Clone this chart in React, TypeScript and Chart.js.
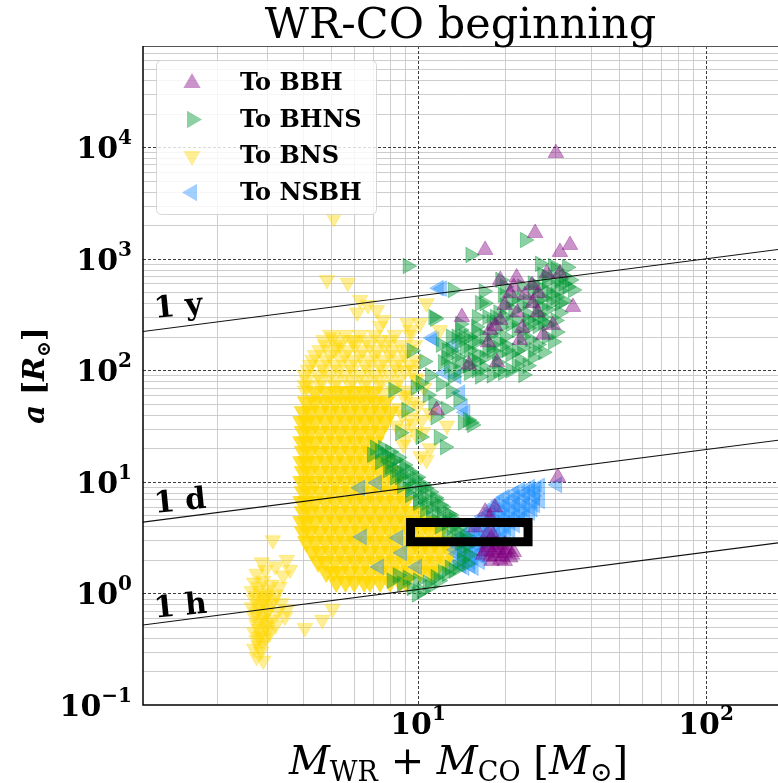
import { useEffect, useRef } from 'react';
import { Chart, registerables } from 'chart.js';
Chart.register(...registerables);

// ---------------- data ----------------
const seriesLabels = ['To BBH', 'To BHNS', 'To BNS', 'To NSBH'];

const bbhPoints: [number, number][] = [
  [30.1, 8870], [25.5, 1700], [17.1, 1200], [31.1, 1150], [33.7, 1330], [22.0, 680], [19.3, 646],
  [24.9, 582], [28.0, 740], [31.1, 740], [20.9, 490], [26.2, 490], [34.5, 370], [14.2, 300],
  [19.3, 283], [22.1, 330], [29.4, 255], [22.6, 187], [27.2, 208], [17.5, 178], [18.8, 118],
  [15.0, 112], [23.5, 474], [20.0, 385], [17.8, 230], [21.5, 560], [25.0, 400], [18.5, 250],
  [23.0, 240], [26.0, 330], [11.6, 44], [30.6, 11.0],
  [17.1, 5.4], [18.5, 5.9], [17.8, 4.85], [17.4, 2.73], [18.5, 2.46], [20.0, 2.3], [17.8, 2.13],
  [19.3, 2.0], [20.9, 2.1], [16.8, 2.22], [18.8, 2.73], [20.0, 2.73], [21.2, 2.22], [18.2, 3.35],
  [15.8, 3.9], [17.5, 3.5],
  [17.0, 2.4], [18.0, 2.35], [19.0, 2.3], [20.0, 2.45], [18.5, 2.15], [19.6, 2.15], [17.6, 2.6],
  [19.0, 2.6], [20.5, 2.5], [21.5, 2.35], [18.0, 1.95], [20.0, 1.95],
];

const bhnsPoints: [number, number][] = [
  [23.5, 1470], [15.2, 1080], [9.2, 860], [26.5, 900], [29.4, 860], [32.9, 840], [33.7, 646],
  [28.0, 690], [13.2, 525], [16.9, 510], [19.7, 474], [19.3, 646], [34.5, 525], [11.3, 300],
  [16.4, 400], [17.4, 300], [21.4, 348], [26.5, 370], [31.1, 400], [14.4, 200], [15.9, 245],
  [19.3, 245], [24.0, 283], [27.2, 270], [30.2, 220], [29.4, 180], [15.5, 180], [17.4, 152],
  [20.3, 152], [25.2, 152], [27.2, 145], [13.6, 133], [14.9, 110], [18.8, 118], [22.6, 124],
  [16.4, 88], [19.7, 95], [23.2, 91], [12.2, 118], [13.2, 88],
  [14.5, 160], [16.0, 140], [18.0, 170], [20.0, 200], [22.0, 230], [24.0, 320], [26.0, 420],
  [28.0, 520], [30.0, 600], [21.0, 260], [23.0, 160], [25.0, 130], [19.0, 100], [17.0, 105],
  [15.5, 125], [13.0, 150], [12.0, 170], [18.5, 300], [21.0, 420], [25.0, 600], [27.0, 720],
  [30.0, 800], [32.0, 700], [29.0, 480], [26.0, 320], [23.0, 380], [20.0, 560], [17.0, 400],
  [16.0, 220], [14.0, 260], [19.0, 140], [22.0, 110], [24.5, 190], [28.0, 260], [31.0, 330],
  [15.0, 95], [13.8, 100], [12.8, 108],
  [14.0, 180], [15.0, 150], [16.0, 120], [17.0, 130], [18.0, 150], [19.0, 180], [20.0, 170],
  [21.0, 140], [22.0, 150], [23.0, 200], [24.0, 240], [25.0, 270], [26.0, 250], [27.0, 300],
  [28.0, 350], [29.0, 400], [30.0, 450], [31.0, 520], [32.0, 600], [33.0, 560], [27.0, 450],
  [25.0, 520], [23.0, 560], [22.0, 450], [20.0, 380], [19.0, 330], [18.0, 270], [17.0, 200],
  [16.0, 180], [15.0, 200], [14.0, 230], [13.0, 200], [12.5, 130], [14.0, 120], [16.0, 100],
  [18.0, 90], [21.0, 100], [24.0, 110], [26.0, 170], [28.0, 200], [30.0, 280], [32.0, 420],
  [20.0, 300], [22.0, 280], [24.0, 420], [26.0, 560], [28.0, 620], [31.0, 650], [18.0, 210],
  [16.0, 300],
  [11.45, 290], [13.6, 200], [12.6, 150], [14.3, 34], [15.2, 34], [11.8, 25], [12.4, 20.5],
  [14.9, 35.9], [15.4, 32.4], [8.2, 66.7], [10.2, 77], [9.1, 44], [11.3, 51], [8.66, 27.5],
  [10.2, 25.3], [9.5, 150], [10.5, 120], [11.0, 90], [9.8, 70], [10.8, 60], [12.0, 75],
  [13.0, 65], [12.5, 45], [11.5, 38], [13.8, 55],
  [7.09, 20.2], [7.38, 18.6], [7.8, 16.9], [8.1, 15.2], [8.45, 12.8], [8.8, 11.6], [9.2, 10.4],
  [9.55, 9.4], [10.16, 8.48], [10.5, 7.3], [10.7, 6.5], [11.1, 5.85], [11.6, 5.3], [12.1, 4.75],
  [12.6, 4.3], [13.1, 3.87], [13.6, 3.35], [14.0, 2.85], [14.2, 2.4], [14.2, 2.0], [13.7, 1.73],
  [8.3, 15.7], [9.0, 13.3], [9.75, 10.8], [10.6, 8.8], [11.45, 7.2], [11.9, 6.2], [12.9, 5.06],
  [13.4, 4.12], [14.6, 3.02], [7.7, 17.5], [8.0, 13.7], [8.66, 11.0], [9.4, 8.5], [10.0, 6.9],
  [7.56, 20.1], [8.0, 18.6], [8.53, 16.5], [8.94, 14.2], [9.38, 12.3], [9.92, 11.0], [10.4, 9.4],
  [11.0, 8.13], [11.5, 6.9], [12.1, 5.95], [12.7, 5.17], [13.3, 4.57], [13.9, 3.87], [14.5, 3.3],
  [14.9, 2.73], [15.0, 2.22], [14.8, 1.85],
  [6.92, 17.5], [7.38, 15.1], [7.87, 12.8], [8.32, 11.0], [8.8, 9.2], [9.38, 7.65], [10.0, 6.5],
  [10.57, 5.6], [11.1, 4.75], [11.9, 4.0], [12.6, 3.35],
  [8.1, 1.3], [8.8, 1.22], [9.5, 1.12], [10.3, 1.05], [11.0, 1.15], [11.8, 1.3], [12.6, 1.5],
  [13.3, 1.6], [9.9, 0.98], [8.5, 1.45], [9.2, 1.38], [10.0, 1.3], [10.8, 1.25], [11.5, 1.4],
  [12.2, 1.55], [12.9, 1.7],
];

const bnsPoints: [number, number][] = [
  [5.1, 2320], [4.83, 646], [5.7, 610], [6.29, 427], [6.7, 385], [7.2, 348], [6.15, 330],
  [7.57, 283], [7.38, 250], [9.2, 265], [10.16, 265], [10.7, 400], [5.07, 198], [6.0, 187],
  [5.23, 160], [9.4, 230], [11.9, 230],
  [4.95, 208], [5.6, 208], [6.29, 208], [7.09, 208], [8.3, 208], [9.4, 208],
  [4.76, 169], [5.36, 169], [6.04, 169], [6.81, 169], [7.68, 169], [8.66, 169], [9.75, 169],
  [4.39, 137], [4.95, 137], [5.58, 137], [6.29, 137], [7.09, 137], [8.0, 137], [9.0, 137],
  [4.22, 112], [4.64, 112], [5.15, 112], [5.81, 112], [6.54, 112], [7.38, 112], [8.32, 112], [9.38, 112],
  [4.05, 91], [4.5, 91], [4.95, 91], [5.58, 91], [6.29, 91], [7.09, 91], [8.0, 91],
  [4.05, 74], [4.57, 74], [5.15, 74], [5.81, 74], [6.54, 74], [7.38, 74], [8.32, 74],
  [4.7, 187], [5.3, 187], [5.9, 187], [6.6, 187], [7.4, 187], [8.0, 187],
  [4.55, 152], [5.1, 152], [5.7, 152], [6.4, 152], [7.2, 152], [8.1, 152], [9.2, 152],
  [4.3, 124], [4.8, 124], [5.4, 124], [6.0, 124], [6.8, 124], [7.6, 124], [8.6, 124], [9.8, 124],
  [4.15, 101], [4.7, 101], [5.3, 101], [5.9, 101], [6.7, 101], [7.5, 101], [8.5, 101], [9.6, 101],
  [4.1, 82], [4.6, 82], [5.2, 82], [5.9, 82], [6.6, 82], [7.4, 82], [8.6, 82], [9.9, 82],
  [4.05, 66], [8.2, 66], [9.1, 66], [7.6, 62], [4.1, 72],
  [8.9, 60], [9.6, 52], [8.6, 46], [9.4, 38], [10.3, 36], [8.4, 32], [9.8, 27], [8.9, 30],
  [9.0, 100], [9.8, 85], [10.5, 70], [9.2, 58], [10.0, 48], [8.8, 40], [9.5, 33], [10.4, 28],
  [9.0, 24], [11.0, 20], [10.2, 17], [8.9, 21.5], [11.0, 41.5], [12.6, 32], [10.7, 15.7],
  [2.75, 1.5], [2.95, 1.62], [3.2, 1.75], [3.4, 1.45], [2.7, 1.25], [2.9, 1.3], [3.1, 1.2],
  [3.3, 1.15], [2.65, 1.05], [2.85, 1.0], [3.0, 0.95], [3.2, 0.98], [2.7, 0.88], [2.9, 0.85],
  [3.1, 0.8], [3.35, 0.82], [2.65, 0.75], [2.8, 0.72], [3.0, 0.7], [3.25, 0.68], [2.7, 0.62],
  [2.9, 0.6], [3.1, 0.58], [2.75, 0.53], [2.95, 0.5], [3.2, 0.52], [2.7, 0.45], [2.85, 0.42],
  [3.05, 0.44], [2.75, 0.38], [2.9, 0.36], [2.7, 0.32], [2.85, 0.3], [2.75, 0.27], [2.9, 0.25],
  [2.8, 1.15], [3.0, 1.08], [2.75, 0.95], [2.95, 0.9], [3.15, 0.88], [2.8, 0.8], [2.95, 0.77],
  [2.75, 0.68], [2.95, 0.65], [2.8, 0.57], [3.0, 0.55], [2.8, 0.48], [3.0, 0.47], [2.8, 0.41],
  [2.95, 0.4], [2.8, 0.34],
  [3.45, 0.62], [3.5, 0.72], [4.05, 0.49], [4.65, 0.58], [5.05, 0.73], [3.13, 3.0], [3.5, 2.0],
  [2.87, 1.9], [3.59, 1.63],
];

// dense BNS population, read row by row: [a, list of masses]
const bnsCoreRows: [number, number[]][] = [
  [64, [4.4, 4.8, 5.2, 5.6, 6.0, 6.5, 7.0]],
  [52, [4.1, 4.39, 4.76, 5.15, 5.58, 6.04, 6.54, 7.09, 7.68]],
  [42.4, [4.0, 4.22, 4.57, 4.95, 5.36, 5.81, 6.29, 6.81, 7.38, 8.0]],
  [34.5, [3.95, 4.1, 4.39, 4.76, 5.15, 5.58, 6.04, 6.54, 7.09, 7.68]],
  [28.1, [4.0, 4.22, 4.57, 4.95, 5.36, 5.81, 6.29, 6.81, 7.38]],
  [22.8, [3.95, 4.1, 4.39, 4.76, 5.15, 5.58, 6.04, 6.54, 7.09]],
  [18.6, [4.0, 4.22, 4.57, 4.95, 5.36, 5.81, 6.29, 6.81]],
  [15.1, [3.95, 4.1, 4.39, 4.76, 5.15, 5.58, 6.04, 6.54, 7.09, 7.68]],
  [12.3, [4.0, 4.22, 4.57, 4.95, 5.36, 5.81, 6.29, 6.81, 7.38, 8.0]],
  [10.0, [3.95, 4.1, 4.39, 4.76, 5.15, 5.58, 6.04, 6.54, 7.09, 7.68, 8.32]],
  [8.13, [4.0, 4.22, 4.57, 4.95, 5.36, 5.81, 6.29, 6.81, 7.38, 8.0, 8.66]],
  [6.62, [3.95, 4.1, 4.39, 4.76, 5.15, 5.58, 6.04, 6.54, 7.09, 7.68, 8.32, 9.0]],
  [5.38, [4.0, 4.22, 4.57, 4.95, 5.36, 5.81, 6.29, 6.81, 7.38, 8.0, 8.66, 9.38, 10.16]],
  [4.38, [3.95, 4.1, 4.39, 4.76, 5.15, 5.58, 6.04, 6.54, 7.09, 7.68, 8.32, 9.0, 9.75, 10.57, 11.0]],
  [3.56, [4.0, 4.22, 4.57, 4.95, 5.36, 5.81, 6.29, 6.81, 7.38, 8.0, 8.66, 9.38, 10.16, 11.0, 11.9]],
  [2.9, [4.1, 4.39, 4.76, 5.15, 5.58, 6.04, 6.54, 7.09, 7.68, 8.32, 9.0, 9.75, 10.57, 11.4, 12.4]],
  [2.36, [4.3, 4.57, 4.95, 5.36, 5.81, 6.29, 6.81, 7.38, 8.0, 8.66, 9.38, 10.16, 11.0, 11.9, 12.9]],
  [1.92, [4.5, 4.76, 5.15, 5.58, 6.04, 6.54, 7.09, 7.68, 8.32, 9.0, 9.75, 10.57, 11.4, 12.4]],
  [1.56, [4.8, 5.1, 5.36, 5.81, 6.29, 6.81, 7.38, 8.0, 8.66, 9.38, 10.16, 11.0, 11.4]],
  [1.27, [5.2, 5.6, 6.0, 6.5, 6.81, 7.38, 8.0, 8.66, 9.1]],
];

const nsbhPoints: [number, number][] = [
  [11.8, 545], [12.1, 540], [11.2, 195], [11.4, 190], [14.0, 63], [14.3, 46.5], [12.4, 95],
  [13.6, 88], [14.6, 42], [13.3, 170],
  [6.29, 8.84], [7.2, 9.8], [6.38, 3.21], [8.53, 3.15], [8.8, 2.31], [7.32, 1.73], [9.92, 1.73],
  [30.4, 9.4],
  [22.6, 8.5], [24.5, 8.5], [25.8, 8.6], [26.5, 9.2], [24.5, 9.0],
  [20.0, 7.3], [21.7, 7.3], [23.5, 7.3], [25.5, 7.3],
  [21.5, 7.9], [23.5, 7.9], [25.5, 7.9],
  [18.5, 6.2], [20.0, 6.2], [21.7, 6.2], [23.5, 6.2], [25.5, 6.2],
  [19.2, 6.75], [21.0, 6.75], [22.8, 6.75], [24.8, 6.75], [26.5, 6.75],
  [17.8, 5.3], [19.3, 5.3], [20.9, 5.3], [22.6, 5.3], [24.5, 5.3],
  [18.0, 5.7], [19.6, 5.7], [21.3, 5.7], [23.0, 5.7], [25.0, 5.7],
  [16.4, 4.5], [17.8, 4.5], [19.3, 4.5], [20.9, 4.5], [22.6, 4.5],
  [16.8, 4.9], [18.4, 4.9], [20.0, 4.9], [21.7, 4.9], [23.5, 4.9],
  [15.2, 3.7], [16.4, 3.7], [17.8, 3.7], [19.3, 3.7], [20.9, 3.7],
  [15.7, 4.1], [17.0, 4.1], [18.5, 4.1], [20.0, 4.1], [21.7, 4.1],
  [14.2, 3.15], [15.4, 3.15], [16.7, 3.15], [18.1, 3.15], [19.6, 3.15],
  [14.6, 3.4], [15.8, 3.4], [17.1, 3.4], [18.6, 3.4], [20.2, 3.4],
  [13.7, 2.7], [14.9, 2.7], [16.1, 2.7],
  [14.0, 2.9], [15.2, 2.9], [16.5, 2.9], [17.8, 2.9],
  [13.7, 2.27], [14.9, 2.27], [16.1, 2.27],
  [13.5, 2.46], [14.6, 2.46], [15.8, 2.46], [17.0, 2.46],
  [14.0, 1.92], [15.2, 1.92], [16.4, 1.92],
  [14.2, 2.1], [15.4, 2.1], [16.7, 2.1],
  [14.5, 1.7], [15.6, 1.7], [14.1, 1.78], [15.2, 1.78],
];

// constant-period lines (endpoints)
const periodLineX = [1.1, 180];
const oneYearA = [222, 1214];
const oneDayA = [4.35, 23.7];
const oneHourA = [0.52, 2.85];
const periodLabels = ['1 y', '1 d', '1 h'];
const periodLabelX = [1.22, 1.22, 1.22];
const periodLabelY = [295, 5.27, 0.604];

// highlighted box
const boxX = [9.42, 24.1];
const boxY = [2.9, 4.33];

const xTickExps = [1, 2];
const yTickExps = [-1, 0, 1, 2, 3, 4];

const X_MIN = 1.109;
const X_MAX = 177.8;
const Y_MIN = 0.1;
const Y_MAX = 80700;

// ---------------- styling ----------------
const SERIF = '"DejaVu Serif"';
const COLORS = ['rgba(128,0,128,0.42)', 'rgba(0,150,50,0.45)', 'rgba(255,215,0,0.42)', 'rgba(30,144,255,0.42)'];
const ROTS = [0, 90, 180, 270];

const toXY = (pts: [number, number][]) => pts.map(([x, y]) => ({ x, y }));

function triPath(ctx: CanvasRenderingContext2D, cx: number, cy: number, r: number, rotDeg: number) {
  let rad = (rotDeg * Math.PI) / 180;
  ctx.beginPath();
  ctx.moveTo(cx + Math.sin(rad) * r, cy - Math.cos(rad) * r);
  for (let k = 0; k < 2; k++) {
    rad += (2 * Math.PI) / 3;
    ctx.lineTo(cx + Math.sin(rad) * r, cy - Math.cos(rad) * r);
  }
  ctx.closePath();
}

type Seg = { t: string; f: string; dy?: number };
function drawRich(ctx: CanvasRenderingContext2D, segs: Seg[], cx: number, base: number) {
  let total = 0;
  const ws = segs.map((s) => {
    ctx.font = s.f;
    const w = ctx.measureText(s.t).width;
    total += w;
    return w;
  });
  let x = cx - total / 2;
  ctx.textAlign = 'left';
  ctx.textBaseline = 'alphabetic';
  segs.forEach((s, i) => {
    ctx.font = s.f;
    ctx.fillText(s.t, x, base + (s.dy || 0));
    x += ws[i];
  });
}

const supText = (e: number) => (e < 0 ? '\u2212' + String(-e) : String(e));

const decorPlugin = {
  id: 'decor',
  beforeDatasetsDraw(chart: any) {
    const { ctx, chartArea, scales } = chart;
    const { left, right, top, bottom } = chartArea;
    const xs = scales.x;
    const ys = scales.y;
    ctx.save();
    ctx.beginPath();
    ctx.rect(left, top, right - left, bottom - top);
    ctx.clip();
    ctx.strokeStyle = 'rgba(200,200,200,0.9)';
    ctx.lineWidth = 1;
    for (let e = 0; e <= 2; e++) {
      for (let m = 2; m <= 9; m++) {
        const p = Math.round(xs.getPixelForValue(m * Math.pow(10, e))) + 0.5;
        ctx.beginPath(); ctx.moveTo(p, top); ctx.lineTo(p, bottom); ctx.stroke();
      }
    }
    for (let e = -1; e <= 4; e++) {
      for (let m = 2; m <= 9; m++) {
        const p = Math.round(ys.getPixelForValue(m * Math.pow(10, e))) + 0.5;
        ctx.beginPath(); ctx.moveTo(left, p); ctx.lineTo(right, p); ctx.stroke();
      }
    }
    ctx.strokeStyle = 'rgba(40,40,40,0.9)';
    ctx.setLineDash([3, 2]);
    for (let e = 0; e <= 2; e++) {
      const p = Math.round(xs.getPixelForValue(Math.pow(10, e))) + 0.5;
      ctx.beginPath(); ctx.moveTo(p, top); ctx.lineTo(p, bottom); ctx.stroke();
    }
    for (let e = -1; e <= 4; e++) {
      const p = Math.round(ys.getPixelForValue(Math.pow(10, e))) + 0.5;
      ctx.beginPath(); ctx.moveTo(left, p); ctx.lineTo(right, p); ctx.stroke();
    }
    ctx.restore();
  },
  afterDraw(chart: any) {
    const { ctx, chartArea, scales } = chart;
    const { left, right, top, bottom } = chartArea;
    const xs = scales.x;
    const ys = scales.y;
    ctx.save();
    ctx.strokeStyle = '#555';
    ctx.lineWidth = 1;
    ctx.beginPath(); ctx.moveTo(left, top + 0.5); ctx.lineTo(right, top + 0.5); ctx.stroke();
    ctx.strokeStyle = '#000';
    ctx.lineWidth = 1.5;
    ctx.beginPath(); ctx.moveTo(left, top); ctx.lineTo(left, bottom); ctx.lineTo(right, bottom); ctx.stroke();

    ctx.fillStyle = '#000';
    ctx.font = `bold 30px ${SERIF}`;
    ctx.textAlign = 'left';
    ctx.textBaseline = 'alphabetic';
    periodLabels.forEach((t, i) => {
      const px = xs.getPixelForValue(periodLabelX[i]);
      const py = ys.getPixelForValue(periodLabelY[i]);
      ctx.save();
      ctx.translate(px, py);
      ctx.rotate(-0.1);
      ctx.fillText(t, 0, 0);
      ctx.restore();
    });

    ctx.font = `43px ${SERIF}`;
    ctx.textAlign = 'center';
    ctx.fillText('WR-CO beginning', (left + right) / 2, 38);

    const mainF = `bold 30px ${SERIF}`;
    const supF = `bold 20px ${SERIF}`;
    yTickExps.forEach((e) => {
      const py = ys.getPixelForValue(Math.pow(10, e));
      ctx.font = supF;
      const s = supText(e);
      const ws = ctx.measureText(s).width;
      ctx.font = mainF;
      const wm = ctx.measureText('10').width;
      const rightX = left - 11;
      ctx.textAlign = 'left';
      ctx.font = mainF;
      ctx.fillText('10', rightX - ws - wm, py + 11);
      ctx.font = supF;
      ctx.fillText(s, rightX - ws, py - 3);
    });
    xTickExps.forEach((e) => {
      const px = xs.getPixelForValue(Math.pow(10, e));
      ctx.font = supF;
      const s = supText(e);
      const ws = ctx.measureText(s).width;
      ctx.font = mainF;
      const wm = ctx.measureText('10').width;
      const x0 = px - (wm + ws) / 2;
      ctx.textAlign = 'left';
      ctx.font = mainF;
      ctx.fillText('10', x0, bottom + 29);
      ctx.font = supF;
      ctx.fillText(s, x0 + wm, bottom + 15);
    });

    const it = `italic 40px ${SERIF}`;
    const rg = `40px ${SERIF}`;
    const sb = `27px ${SERIF}`;
    drawRich(ctx, [
      { t: 'M', f: it }, { t: 'WR', f: sb, dy: 7 }, { t: ' + ', f: rg }, { t: 'M', f: it },
      { t: 'CO', f: sb, dy: 7 }, { t: ' [', f: rg }, { t: 'M', f: it }, { t: '\u2299', f: sb, dy: 7 },
      { t: ']', f: rg },
    ], (left + right) / 2 - 2, 774);

    ctx.save();
    ctx.translate(44, (top + bottom) / 2);
    ctx.rotate(-Math.PI / 2);
    const bi = `bold italic 29px ${SERIF}`;
    const bd = `bold 29px ${SERIF}`;
    drawRich(ctx, [
      { t: 'a', f: bi }, { t: ' [', f: bd }, { t: 'R', f: bi }, { t: '\u2299', f: `bold 19px ${SERIF}`, dy: 6 },
      { t: ']', f: bd },
    ], 0, 0);
    ctx.restore();

    const lx = 156, ly = 60, lw = 220, lh = 154;
    ctx.fillStyle = 'rgba(255,255,255,0.82)';
    ctx.strokeStyle = 'rgba(210,210,210,0.9)';
    ctx.lineWidth = 1;
    ctx.beginPath();
    (ctx as any).roundRect(lx + 0.5, ly + 0.5, lw, lh, 5);
    ctx.fill();
    ctx.stroke();
    const ds = chart.data.datasets;
    let row = 0;
    ds.forEach((d: any) => {
      if (!seriesLabels.includes(d.label)) return;
      const cy = 82 + row * 36.5;
      ctx.fillStyle = d.pointBackgroundColor;
      triPath(ctx, 192, cy + 1, 10, d.pointRotation);
      ctx.fill();
      ctx.fillStyle = '#000';
      ctx.font = `bold 24px ${SERIF}`;
      ctx.textAlign = 'left';
      ctx.fillText(d.label, 240, cy + 8);
      row++;
    });
    ctx.restore();
  },
};

const noPad = (s: any) => {
  s.paddingLeft = 0;
  s.paddingRight = 0;
  s.paddingTop = 0;
  s.paddingBottom = 0;
};

export default function App() {
  const ref = useRef<HTMLCanvasElement | null>(null);
  useEffect(() => {
    if (!ref.current) return;
    const series = [bbhPoints, bhnsPoints, bnsPoints, nsbhPoints];
    const triSets = series.map((pts, i) => ({
      label: seriesLabels[i],
      data: toXY(pts),
      pointStyle: 'triangle',
      pointRotation: ROTS[i],
      pointRadius: 9,
      pointBackgroundColor: COLORS[i],
      pointBorderColor: COLORS[i],
      pointBorderWidth: 0.8,
      showLine: false,
      order: i + 1,
    }));
    const coreSet = {
      label: 'BNS core',
      data: bnsCoreRows.flatMap(([y, xs]) => xs.map((x) => ({ x, y }))),
      pointStyle: 'triangle',
      pointRotation: 180,
      pointRadius: 10.5,
      pointBackgroundColor: 'rgba(255,215,0,0.78)',
      pointBorderColor: 'rgba(255,215,0,0.78)',
      pointBorderWidth: 0.8,
      showLine: false,
      order: 9,
    };
    const lineSet = (ys: number[]) => ({
      label: 'period',
      data: periodLineX.map((x, i) => ({ x, y: ys[i] })),
      showLine: true,
      pointRadius: 0,
      borderColor: '#111',
      borderWidth: 1.1,
      order: 0,
    });
    const boxSet = {
      label: 'box',
      data: [
        { x: boxX[0], y: boxY[0] }, { x: boxX[0], y: boxY[1] }, { x: boxX[1], y: boxY[1] },
        { x: boxX[1], y: boxY[0] }, { x: boxX[0], y: boxY[0] },
      ],
      showLine: true,
      pointRadius: 0,
      borderColor: '#000',
      borderWidth: 9,
      borderJoinStyle: 'miter',
      borderCapStyle: 'square',
      order: 0,
    };
    const chart = new Chart(ref.current, {
      type: 'scatter',
      data: {
        datasets: [...triSets, coreSet, lineSet(oneYearA), lineSet(oneDayA), lineSet(oneHourA), boxSet] as any,
      },
      options: {
        responsive: false,
        animation: false,
        events: [],
        layout: { autoPadding: false, padding: { top: 46, left: 0, right: 0, bottom: 0 } },
        plugins: { legend: { display: false }, title: { display: false }, tooltip: { enabled: false } },
        scales: {
          x: {
            type: 'logarithmic', min: X_MIN, max: X_MAX,
            grid: { display: false }, border: { display: false }, ticks: { display: false },
            afterFit: (s: any) => { s.height = 78; noPad(s); },
          },
          y: {
            type: 'logarithmic', min: Y_MIN, max: Y_MAX,
            grid: { display: false }, border: { display: false }, ticks: { display: false },
            afterFit: (s: any) => { s.width = 143; noPad(s); },
          },
        },
      } as any,
      plugins: [decorPlugin],
    });
    return () => chart.destroy();
  }, []);
  return (
    <div style={{ position: 'fixed', left: 0, top: 0, width: 778, height: 783, background: '#fff' }}>
      <canvas ref={ref} width={778} height={783} style={{ display: 'block' }} />
    </div>
  );
}
